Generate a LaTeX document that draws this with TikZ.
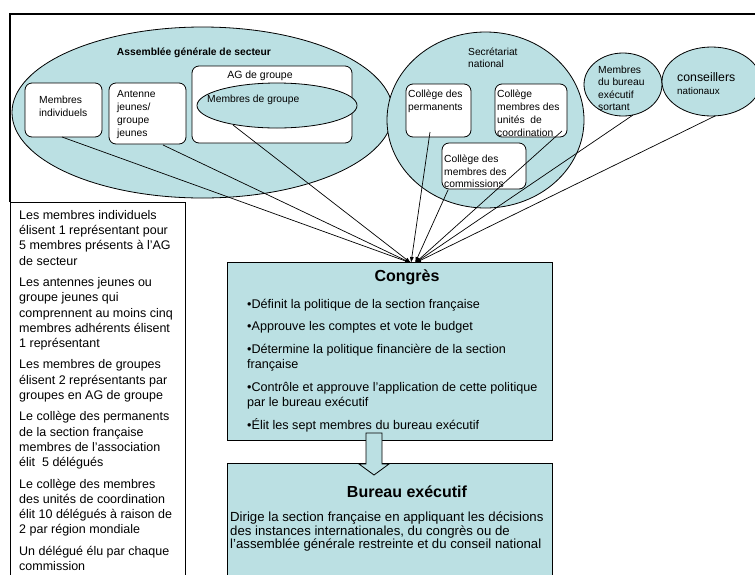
\documentclass[tikz,border=0pt]{standalone}
\usepackage{fontspec}
\setmainfont{Liberation Sans}
\usetikzlibrary{shapes.geometric,arrows.meta}
\definecolor{tealfill}{RGB}{187,224,227}
\newcommand{\fsz}[2]{\fontsize{#1}{#2}\selectfont}
\begin{document}
\begin{tikzpicture}[x=1pt,y=-1pt,
  ell/.style={ellipse,draw=black,line width=0.8pt,fill=tealfill,inner sep=0pt},
  rbox/.style={rectangle,rounded corners=7pt,draw=black,line width=0.8pt,fill=white,inner sep=0pt},
  sqbox/.style={rectangle,draw=black,line width=0.8pt,fill=tealfill,inner sep=0pt},
  txt/.style={inner sep=0pt,align=left,anchor=north west},
  conn/.style={line width=0.7pt,-{Latex[length=6pt,width=4pt]}},
]
\useasboundingbox (0,0) rectangle (755,574);
\fill[white] (0,0) rectangle (755,574);

% frame and left text box
\draw[line width=1.8pt] (10,202) -- (10,14) -- (760,14);
\node[rectangle,draw=black,line width=1pt,minimum width=175pt,minimum height=388pt,inner sep=0pt] (tbox) at (97.5,396) {};

% Assemblee generale de secteur
\node[ell,minimum width=381pt,minimum height=171pt] (ags) at (202.5,112.5) {};
\node[inner sep=0pt,font=\fsz{10.3}{12}\bfseries] (agstitle) at (194,53) {Assemblée générale de secteur};
\node[rbox,minimum width=77pt,minimum height=54pt] (mi) at (63.5,110) {};
\node[rbox,minimum width=77pt,minimum height=61pt] (aj) at (147.5,113.5) {};
\node[rbox,minimum width=160pt,minimum height=77pt] (agg) at (272,104.5) {};
\node[ell,minimum width=160pt,minimum height=45pt] (mg) at (277,105.5) {};
\node[txt,font=\fsz{10.3}{13}] (mitxt) at (39,96) {Membres\\individuels};
\node[txt,font=\fsz{10.3}{13}] (ajtxt) at (117,90) {Antenne\\jeunes/\\groupe\\jeunes};
\node[inner sep=0pt,font=\fsz{10.5}{12}] (aggtxt) at (260,76) {AG de groupe};
\node[inner sep=0pt,anchor=west,font=\fsz{10.3}{12}] (mgtxt) at (207,100) {Membres de groupe};

% Secretariat national
\node[ell,minimum width=197pt,minimum height=176pt] (sec) at (485.5,120) {};
\node[txt,font=\fsz{10.2}{12}] (sectxt) at (468,48) {Secrétariat\\national};
\node[rbox,minimum width=65pt,minimum height=53pt] (cp) at (438.5,110.5) {};
\node[rbox,minimum width=72pt,minimum height=53pt] (cu) at (531,110.5) {};
\node[rbox,minimum width=84pt,minimum height=46pt] (cc) at (484,166) {};
\node[txt,font=\fsz{10.3}{13}] (cptxt) at (408,90) {Collège des\\permanents};
\node[txt,font=\fsz{10.3}{12.8}] (cutxt) at (497,90) {Collège\\membres des\\unités~~de\\coordination};
\node[txt,font=\fsz{10.3}{12.3}] (cctxt) at (444,155) {Collège des\\membres des\\commissions};

% small ellipses
\node[ell,minimum width=78pt,minimum height=63pt] (mbs) at (623,84.5) {};
\node[txt,font=\fsz{10.3}{12.3}] (mbstxt) at (598,66) {Membres\\du bureau\\exécutif\\sortant};
\node[ell,minimum width=99pt,minimum height=69pt] (cn) at (711.5,81.5) {};
\node[inner sep=0pt,anchor=west,font=\fsz{12.3}{14}] (cntxt) at (677,77) {conseillers};
\node[inner sep=0pt,anchor=west,font=\fsz{9.8}{12}] (cntxtb) at (677,91) {nationaux};

% left text
\node[txt,font=\fsz{12.5}{15.3}] (leftxt) at (19,210) {Les membres individuels\\
élisent 1 représentant pour\\
5 membres présents à l'AG\\
de secteur\\[6pt]
Les antennes jeunes ou\\
groupe jeunes qui\\
comprennent au moins cinq\\
membres adhérents élisent\\
1 représentant\\[6pt]
Les membres de groupes\\
élisent 2 représentants par\\
groupes en AG de groupe\\[6pt]
Le collège des permanents\\
de la section française\\
membres de l'association\\
élit~~5 délégués\\[6pt]
Le collège des membres\\
des unités de coordination\\
élit 10 délégués à raison de\\
2 par région mondiale\\[6pt]
Un délégué élu par chaque\\
commission};

% Congres
\node[sqbox,minimum width=325pt,minimum height=178pt] (congres) at (389.5,351) {};
\node[inner sep=0pt,font=\fsz{16}{18}\bfseries] (congrestitle) at (407,277) {Congrès};
\node[txt,font=\fsz{12.6}{15.5}] (congrestxt) at (247,299) {•Définit la politique de la section française\\[7pt]
•Approuve les comptes et vote le budget\\[7pt]
•Détermine la politique financière de la section\\
française\\[7pt]
•Contrôle et approuve l’application de cette politique\\
par le bureau exécutif\\[7pt]
•Élit les sept membres du bureau exécutif};

% Bureau executif
\node[sqbox,minimum width=325pt,minimum height=122pt] (bureau) at (389.5,524) {};
\node[inner sep=0pt,font=\fsz{16}{18}\bfseries] (bureautitle) at (407,492) {Bureau exécutif};
\node[txt,font=\fsz{13.2}{13.5}] (bureautxt) at (230,512) {Dirige la section française en appliquant les décisions\\
des instances internationales, du congrès ou de\\
l’assemblée générale restreinte et du conseil national};

% block arrow
\draw[line width=0.8pt,fill=tealfill] (366,433) -- (382,433) -- (382,464) -- (389,464) -- (374,475) -- (359,464) -- (366,464) -- cycle;

% connectors
\coordinate (s1) at (62,137);
\coordinate (s2) at (163,145);
\coordinate (s3) at (233,125);
\coordinate (s4) at (430,132);
\coordinate (s5) at (448,190);
\coordinate (s6) at (562,131);
\coordinate (s7) at (633,115);
\coordinate (s8) at (715,116);
\coordinate (cL) at (411,263);
\coordinate (cR) at (415,263);
\foreach \s in {s1,s2,s3,s4} \draw[conn] (\s) -- (cL);
\foreach \s in {s5,s6,s7,s8} \draw[conn] (\s) -- (cR);
\end{tikzpicture}
\end{document}
